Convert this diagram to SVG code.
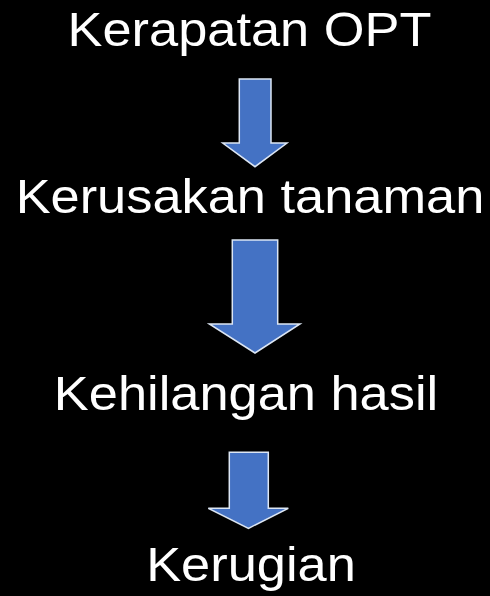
<svg xmlns="http://www.w3.org/2000/svg" width="490" height="596" viewBox="0 0 490 596">
<style>
.t{font-family:"Liberation Sans",Arial,sans-serif;font-size:48.5px;fill:#ffffff;text-anchor:middle}
.a{fill:#4472C4;stroke:#DCE6F4;stroke-width:1.5;stroke-linejoin:miter}
</style>
<rect width="490" height="596" fill="#000000"/>
<g id="n1"><text class="t" transform="translate(249.5,45.5) scale(1.08,1)">Kerapatan OPT</text></g>
<g id="n2"><text class="t" transform="translate(250,212.5) scale(1.08,1)">Kerusakan tanaman</text></g>
<g id="n3"><text class="t" transform="translate(246,410) scale(1.08,1)">Kehilangan hasil</text></g>
<g id="n4"><text class="t" transform="translate(251,580.5) scale(1.08,1)">Kerugian</text></g>
<g id="connectors">
<polygon class="a" points="239.3,79 271,79 271,143 287,143 255,166.7 222.7,143 239.3,143"/>
<polygon class="a" points="232.3,240 277.7,240 277.7,324 300,324 255,353 209.3,324 232.3,324"/>
<polygon class="a" points="229.3,452.3 268.3,452.3 268.3,508.3 288.3,508.3 248.5,528.3 208.3,508.3 229.3,508.3"/>
</g>
</svg>
